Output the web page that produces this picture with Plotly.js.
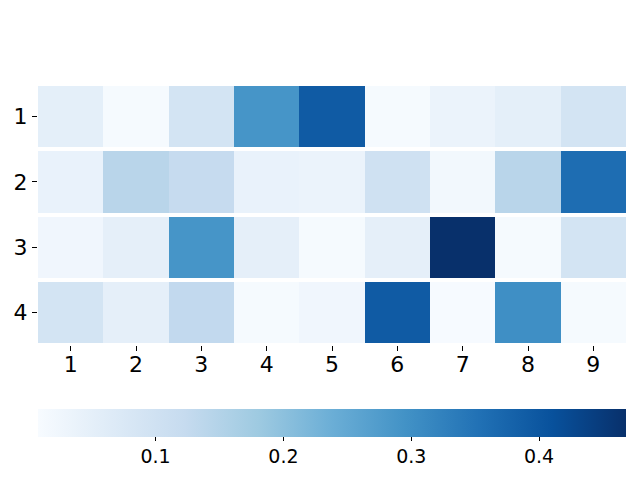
<!DOCTYPE html>
<html>
<head>
<meta charset="utf-8">
<script src="https://cdn.plot.ly/plotly-3.0.1.min.js"></script>
<style>html,body{margin:0;padding:0;background:#fff;}#chart{width:640px;height:480px;}</style>
</head>
<body>
<div id="chart"></div>
<script>
var columns = [1, 2, 3, 4, 5, 6, 7, 8, 9];
var rows = [1, 2, 3, 4];
var row1 = [0.052, 0.013, 0.092, 0.290, 0.392, 0.013, 0.035, 0.052, 0.092];
var row2 = [0.040, 0.142, 0.123, 0.040, 0.035, 0.101, 0.020, 0.142, 0.360];
var row3 = [0.025, 0.050, 0.290, 0.050, 0.013, 0.050, 0.468, 0.013, 0.092];
var row4 = [0.092, 0.050, 0.129, 0.012, 0.025, 0.392, 0.010, 0.300, 0.012];
var colorTicks = [0.1, 0.2, 0.3, 0.4];
var zMin = 0.008, zMax = 0.468;

var blues = [
  [0.0, '#f7fbff'], [0.125, '#deebf7'], [0.25, '#c6dbef'], [0.375, '#9ecae1'],
  [0.5, '#6baed6'], [0.625, '#4292c6'], [0.75, '#2171b5'], [0.875, '#08519c'], [1.0, '#08306b']
];

var trace = {
  type: 'heatmap',
  x: columns,
  y: rows,
  z: [row1, row2, row3, row4],
  zmin: zMin, zmax: zMax,
  colorscale: blues,
  xgap: 0, ygap: 4,
  hoverinfo: 'x+y+z',
  colorbar: {
    orientation: 'h',
    x: 0.5, xanchor: 'center', xpad: 0,
    y: -0.245, yanchor: 'top', ypad: 0,
    len: 1, lenmode: 'fraction',
    thickness: 28,
    outlinewidth: 0,
    ticks: 'outside', ticklen: 4, tickwidth: 1, tickcolor: '#000',
    tickvals: colorTicks,
    ticktext: colorTicks.map(String),
    tickfont: {family: 'DejaVu Sans', size: 19, color: '#000'}
  }
};

var layout = {
  width: 640, height: 480,
  margin: {l: 38, r: 14, t: 84, b: 135, pad: 0},
  paper_bgcolor: '#fff', plot_bgcolor: '#fff',
  xaxis: {
    tickvals: columns, ticktext: columns.map(String),
    ticks: 'outside', ticklen: 5, tickwidth: 1, tickcolor: '#000',
    ticklabelstandoff: -5,
    tickfont: {family: 'DejaVu Sans', size: 22, color: '#000'},
    showgrid: false, zeroline: false, showline: false
  },
  yaxis: {
    autorange: 'reversed',
    tickvals: rows, ticktext: rows.map(String),
    ticks: 'outside', ticklen: 5, tickwidth: 1, tickcolor: '#000',
    tickfont: {family: 'DejaVu Sans', size: 22, color: '#000'},
    showgrid: false, zeroline: false, showline: false
  },
  showlegend: false
};

Plotly.newPlot('chart', [trace], layout, {displayModeBar: false, staticPlot: true});
</script>
</body>
</html>
